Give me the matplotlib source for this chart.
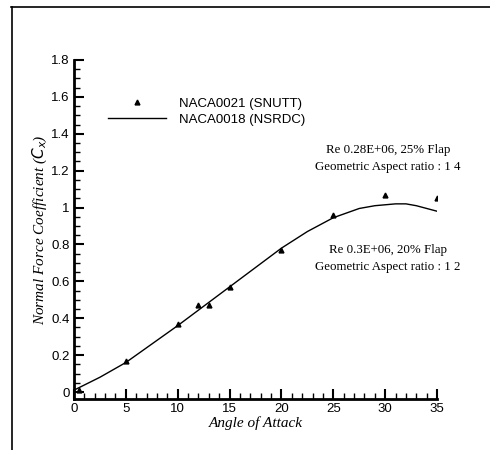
import matplotlib
matplotlib.use("Agg")
import matplotlib.pyplot as plt
from matplotlib.ticker import MultipleLocator
from matplotlib.lines import Line2D

# measured points, NACA0021 (SNUTT)
alpha_exp = [0.5, 5, 10, 12, 13, 15, 20, 25, 30, 35]
cn_exp = [0.01, 0.17, 0.37, 0.47, 0.47, 0.57, 0.77, 0.96, 1.07, 1.05]

# curve, NACA0018 (NSRDC)
alpha_ref = [0, 2.5, 5, 7.5, 10, 12.5, 15, 17.5, 20, 22.5, 25, 27.5, 29, 30, 31, 32, 33, 34, 35]
cn_ref = [0.01, 0.08, 0.16, 0.26, 0.36, 0.465, 0.57, 0.675, 0.78, 0.87, 0.945, 0.995, 1.01, 1.015, 1.02, 1.02, 1.01, 0.995, 0.98]

plt.rcParams['font.family'] = ['Liberation Sans', 'DejaVu Sans']

fig = plt.figure(figsize=(4.9, 4.5), dpi=100)
ax = fig.add_axes([0.151, 0.1133, 0.741, 0.7534])

ax.plot(alpha_ref, cn_ref, color='black', lw=1.0)
ax.plot(alpha_exp, cn_exp, ls='none', marker='^', ms=3.5, color='black')

ax.set_xlim(0, 35)
ax.set_ylim(-0.038, 1.8)
ax.xaxis.set_major_locator(MultipleLocator(5))
ax.xaxis.set_minor_locator(MultipleLocator(1))
ax.yaxis.set_major_locator(MultipleLocator(0.2))
ax.yaxis.set_minor_locator(MultipleLocator(0.05))
ax.set_yticks([0, 0.2, 0.4, 0.6, 0.8, 1.0, 1.2, 1.4, 1.6, 1.8])
ax.set_yticklabels(['0', '0.2', '0.4', '0.6', '0.8', '1', '1.2', '1.4', '1.6', '1.8'])
ax.tick_params(which='major', direction='in', length=7, width=1.5, labelsize=9.5, pad=3)
ax.tick_params(which='minor', direction='in', length=4, width=1.0)
ax.spines['top'].set_visible(False)
ax.spines['right'].set_visible(False)
ax.spines['left'].set_linewidth(2)
ax.spines['bottom'].set_linewidth(2)

ax.set_xlabel('Angle of Attack', family='Liberation Serif', style='italic', fontsize=11, labelpad=1)
ax.set_ylabel(r'Normal Force Coefficient ($C_x$)', family='Liberation Serif', style='italic',
              fontsize=11, labelpad=2)

handles = [Line2D([], [], ls='none', marker='^', ms=3.5, color='black'),
           Line2D([], [], color='black', lw=1.0)]
ax.legend(handles, ['NACA0021 (SNUTT)', 'NACA0018 (NSRDC)'], frameon=False, fontsize=9.5,
          loc='upper left', bbox_to_anchor=(0.06, 0.925), handlelength=4.4,
          handletextpad=1.0, labelspacing=0.3)

ax.text(0.865, 0.71, 'Re 0.28E+06, 25% Flap\nGeometric Aspect ratio : 1 4', transform=ax.transAxes,
        family='Liberation Serif', fontsize=9.3, ha='center', va='center', linespacing=1.6)
ax.text(0.865, 0.415, 'Re 0.3E+06, 20% Flap\nGeometric Aspect ratio : 1 2', transform=ax.transAxes,
        family='Liberation Serif', fontsize=9.3, ha='center', va='center', linespacing=1.6)

# page frame lines (top and left)
fig.add_artist(Line2D([0.022, 1.0], [0.985, 0.985], color='black', lw=1.2, transform=fig.transFigure))
fig.add_artist(Line2D([0.024, 0.024], [0.0, 0.985], color='black', lw=1.2, transform=fig.transFigure))

fig.savefig('out.png', dpi=100)
